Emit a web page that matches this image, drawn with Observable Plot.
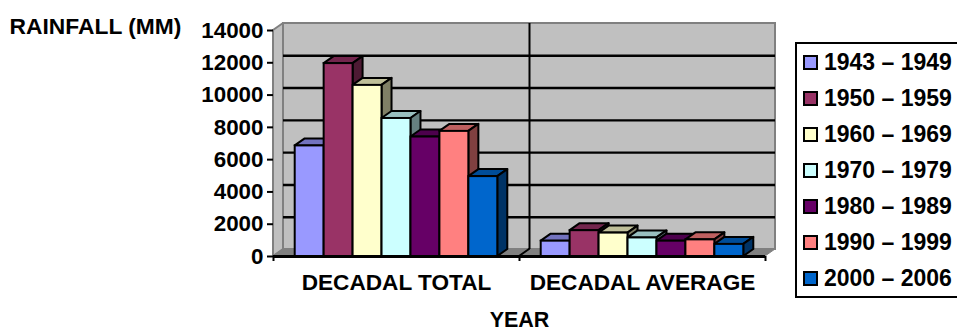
<!DOCTYPE html>
<html>
<head>
<meta charset="utf-8">
<script src="https://cdn.jsdelivr.net/npm/d3@7"></script>
<script src="https://cdn.jsdelivr.net/npm/@observablehq/plot@0.6"></script>
<style>
  html, body { margin: 0; background: #fff; }
  #chart { position: relative; width: 957px; height: 331px; overflow: hidden; }
  #legend {
    position: absolute; left: 795px; top: 42px; width: 160px; height: 252px;
    border: 2px solid #000; box-sizing: content-box;
    display: flex; flex-direction: column; justify-content: space-around;
    padding: 0; font: bold 23px "Liberation Sans", Arial, sans-serif; color: #000;
  }
  #legend div { display: flex; align-items: center; height: 36px; padding-left: 6px; white-space: nowrap; }
  #legend i { width: 11px; height: 11px; border: 2px solid #000; margin-right: 6px; flex: none; }
</style>
</head>
<body>
<div id="chart"></div>
<script>
// Rainfall per period, summed and averaged over each decade
const categories = ["DECADAL TOTAL", "DECADAL AVERAGE"];
const periods = ["1943 – 1949", "1950 – 1959", "1960 – 1969", "1970 – 1979", "1980 – 1989", "1990 – 1999", "2000 – 2006"];
const colors = ["#9999ff", "#993366", "#ffffcc", "#ccffff", "#660066", "#ff8080", "#0066cc"];
const decadalTotal = [6850, 11950, 10600, 8550, 7400, 7750, 4950];
const decadalAverage = [950, 1600, 1450, 1150, 950, 1030, 750];
const yTicks = [0, 2000, 4000, 6000, 8000, 10000, 12000, 14000];

const font = '"Liberation Sans", Arial, sans-serif';
const depthX = 10, depthY = -7;          // offset of the back wall from the front plane
const groupWidth = 8.5, groupInset = 0.75;

const bars = categories.flatMap((category, c) =>
  (c === 0 ? decadalTotal : decadalAverage).map((value, s) => ({
    category, value, period: periods[s], color: colors[s],
    x1: c * groupWidth + groupInset + s,
    x2: c * groupWidth + groupInset + s + 1
  }))
);
const xMax = categories.length * groupWidth;
const yMax = 14000;

const shade = (color, k) => { const c = d3.rgb(color); return d3.rgb(c.r * k, c.g * k, c.b * k).formatHex(); };

// Draws closed polygons given in [x, y] scale values, each vertex optionally pushed back in depth
function polygons(items) {
  return (index, {x, y}) => {
    const g = d3.create("svg:g");
    for (const {points, fill, stroke, strokeWidth} of items) {
      g.append("polygon")
        .attr("points", points.map(([a, b, back]) =>
          [x(a) + (back ? depthX : 0), y(b) + (back ? depthY : 0)].join(",")).join(" "))
        .attr("fill", fill)
        .attr("stroke", stroke)
        .attr("stroke-width", strokeWidth)
        .attr("stroke-linejoin", "round");
    }
    return g.node();
  };
}

const shell = [
  {points: [[0, 0], [0, yMax], [0, yMax, 1], [0, 0, 1]], fill: "#c0c0c0", stroke: "#808080", strokeWidth: 2},
  {points: [[0, 0], [0, 0, 1], [xMax, 0, 1], [xMax, 0]], fill: "#808080", stroke: "#808080", strokeWidth: 1}
];

// Top and side faces of the bars, left to right so each overlaps its neighbour
const faces = bars.flatMap(d => [
  {points: [[d.x1, d.value], [d.x1, d.value, 1], [d.x2, d.value, 1], [d.x2, d.value]],
   fill: shade(d.color, 0.75), stroke: "#000", strokeWidth: 2},
  {points: [[d.x2, d.value], [d.x2, d.value, 1], [d.x2, 0, 1], [d.x2, 0]],
   fill: shade(d.color, 0.5), stroke: "#000", strokeWidth: 2}
]);

const xBoundaries = d3.range(categories.length + 1).map(i => i * groupWidth);

const plot = Plot.plot({
  width: 957,
  height: 331,
  marginLeft: 273,
  marginRight: 192,
  marginTop: 30,
  marginBottom: 75,
  style: {fontFamily: font, fontSize: "22px", fontWeight: "bold", color: "#000", background: "#fff"},
  x: {type: "linear", domain: [0, xMax], axis: null},
  y: {type: "linear", domain: [0, yMax], axis: null},
  marks: [
    // back wall and the side wall joining it to the axis
    Plot.rect([{}], {x1: 0, x2: xMax, y1: 0, y2: yMax, dx: depthX, dy: depthY, fill: "#c0c0c0", stroke: "#808080", strokeWidth: 2}),
    polygons(shell),
    Plot.ruleY(yTicks.slice(1, -1), {x1: 0, x2: xMax, dx: depthX, dy: depthY, stroke: "#000", strokeWidth: 2.4}),
    Plot.ruleX(xBoundaries.slice(1, -1), {y1: 0, y2: yMax, dx: depthX, dy: depthY, stroke: "#000", strokeWidth: 2}),
    polygons(xBoundaries.slice(1, -1).map(b => ({points: [[b, 0], [b, 0, 1]], fill: "none", stroke: "#000", strokeWidth: 2}))),
    polygons(faces),
    Plot.rect(bars, {x1: "x1", x2: "x2", y1: 0, y2: "value", fill: "color", stroke: "#000", strokeWidth: 2}),
    // axes
    Plot.ruleY([0], {x1: 0, x2: xMax, stroke: "#000", strokeWidth: 3}),
    Plot.axisY({ticks: yTicks, tickSize: 6, tickPadding: 4, tickFormat: d => String(d), label: null, stroke: "#000", strokeWidth: 2, fontSize: 22.4, fontWeight: "bold"}),
    Plot.ruleX(xBoundaries, {y1: 0, y2: -310, stroke: "#000", strokeWidth: 2}),
    Plot.text(categories, {x: (d, i) => (i + 0.5) * groupWidth, y: 0, dy: 26, fontSize: 22.6, fontWeight: "bold", fill: "#000"}),
    Plot.text(["YEAR"], {x: xMax / 2, y: 0, dy: 64, fontSize: 21.5, fontWeight: "bold", fill: "#000"}),
    Plot.text(["RAINFALL (MM)"], {x: 0, y: yMax, dx: -178, dy: -4, textAnchor: "middle", fontSize: 22.8, fontWeight: "bold", fill: "#000"})
  ]
});

const chart = document.getElementById("chart");
chart.appendChild(plot);

const legend = d3.select(chart).append("div").attr("id", "legend");
const rows = legend.selectAll("div").data(periods).join("div");
rows.append("i").style("background", (d, i) => colors[i]);
rows.append("span").text(d => d);
</script>
</body>
</html>
